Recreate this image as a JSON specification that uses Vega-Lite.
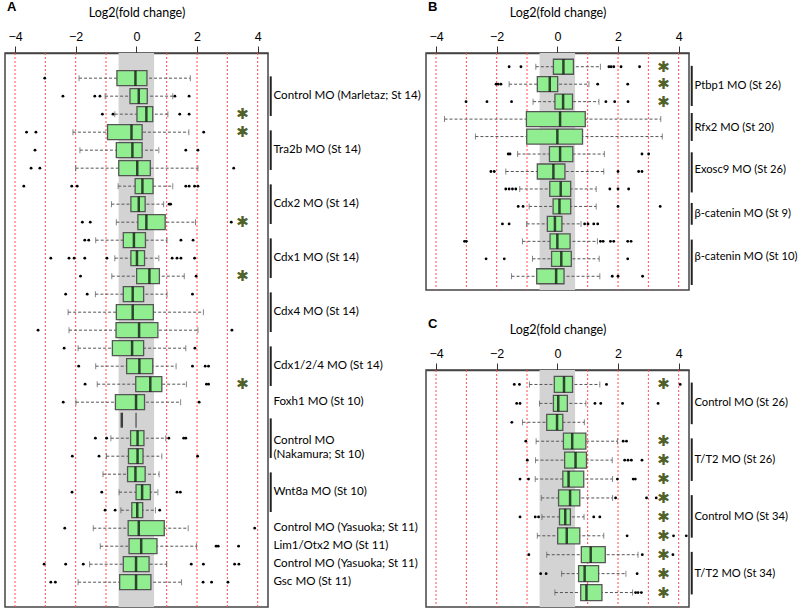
{
  "$schema": "https://vega.github.io/schema/vega-lite/v6.json",
  "padding": {"left": 4, "top": 0, "right": 0, "bottom": 0},
  "background": "white",
  "bounds": "flush",
  "spacing": 158,
  "config": {
    "view": {"stroke": "#444", "strokeWidth": 1.5},
    "title": {"font": "Liberation Sans", "fontSize": 13, "fontWeight": "bold", "color": "black", "anchor": "start", "frame": "group", "offset": -8, "dx": 2},
    "axis": {"labelFont": "Liberation Sans", "labelFontSize": 12.5, "labelColor": "black", "labelPadding": 3, "tickSize": 7, "tickColor": "#333", "domainColor": "#444", "domainWidth": 1.5, "titleFont": "Lato", "titleFontSize": 12.5, "titleFontWeight": "normal", "titleColor": "black", "titlePadding": 11, "grid": false, "labelFlush": false}
  },
  "datasets": {
    "band": [{"lo": -0.585, "hi": 0.585}],
    "grid": [{"v": -4}, {"v": -3}, {"v": -2}, {"v": -1}, {"v": 1}, {"v": 2}, {"v": 3}, {"v": 4}],
    "boxes": [
      {"p": "A", "r": 1, "lo": -1.89, "q1": -0.64, "med": -0.03, "q3": 0.35, "hi": 1.78},
      {"p": "A", "r": 2, "lo": -1.03, "q1": -0.21, "med": 0.08, "q3": 0.36, "hi": 1.2},
      {"p": "A", "r": 3, "lo": -0.71, "q1": 0.02, "med": 0.33, "q3": 0.54, "hi": 1.04},
      {"p": "A", "r": 4, "lo": -2.09, "q1": -0.95, "med": -0.16, "q3": 0.19, "hi": 1.73},
      {"p": "A", "r": 5, "lo": -1.86, "q1": -0.66, "med": -0.13, "q3": 0.19, "hi": 0.74},
      {"p": "A", "r": 6, "lo": -2.0, "q1": -0.58, "med": 0.03, "q3": 0.46, "hi": 2.03},
      {"p": "A", "r": 7, "lo": -0.6, "q1": -0.04, "med": 0.2, "q3": 0.55, "hi": 1.2},
      {"p": "A", "r": 8, "lo": -0.82, "q1": -0.18, "med": 0.08, "q3": 0.29, "hi": 0.9},
      {"p": "A", "r": 9, "lo": -0.66, "q1": 0.05, "med": 0.33, "q3": 0.95, "hi": 1.95},
      {"p": "A", "r": 10, "lo": -1.34, "q1": -0.43, "med": -0.08, "q3": 0.3, "hi": 1.01},
      {"p": "A", "r": 11, "lo": -0.71, "q1": -0.18, "med": 0.02, "q3": 0.27, "hi": 0.74},
      {"p": "A", "r": 12, "lo": -0.81, "q1": 0.01, "med": 0.43, "q3": 0.76, "hi": 1.58},
      {"p": "A", "r": 13, "lo": -1.35, "q1": -0.43, "med": -0.12, "q3": 0.24, "hi": 1.01},
      {"p": "A", "r": 14, "lo": -2.25, "q1": -0.66, "med": -0.12, "q3": 0.56, "hi": 2.21},
      {"p": "A", "r": 15, "lo": -2.22, "q1": -0.67, "med": 0.09, "q3": 0.71, "hi": 2.03},
      {"p": "A", "r": 16, "lo": -1.92, "q1": -0.79, "med": -0.14, "q3": 0.24, "hi": 1.63},
      {"p": "A", "r": 17, "lo": -1.34, "q1": -0.32, "med": 0.1, "q3": 0.54, "hi": 1.31},
      {"p": "A", "r": 18, "lo": -1.29, "q1": -0.02, "med": 0.46, "q3": 0.84, "hi": 1.65},
      {"p": "A", "r": 19, "lo": -1.99, "q1": -0.69, "med": -0.01, "q3": 0.27, "hi": 1.46},
      {"p": "A", "r": 20, "lo": null, "q1": -0.01, "med": -0.48, "q3": -0.01, "hi": null},
      {"p": "A", "r": 21, "lo": -0.84, "q1": -0.19, "med": 0.04, "q3": 0.25, "hi": 0.97},
      {"p": "A", "r": 22, "lo": -0.99, "q1": -0.26, "med": 0.04, "q3": 0.22, "hi": 0.84},
      {"p": "A", "r": 23, "lo": -1.1, "q1": -0.29, "med": -0.03, "q3": 0.29, "hi": 0.75},
      {"p": "A", "r": 24, "lo": -0.57, "q1": -0.01, "med": 0.19, "q3": 0.46, "hi": 0.71},
      {"p": "A", "r": 25, "lo": -0.51, "q1": -0.15, "med": 0.03, "q3": 0.21, "hi": 0.63},
      {"p": "A", "r": 26, "lo": -1.42, "q1": -0.27, "med": 0.08, "q3": 0.92, "hi": 1.71},
      {"p": "A", "r": 27, "lo": -1.19, "q1": -0.24, "med": 0.16, "q3": 0.68, "hi": 1.98},
      {"p": "A", "r": 28, "lo": -1.54, "q1": -0.43, "med": -0.01, "q3": 0.42, "hi": 1.0},
      {"p": "A", "r": 29, "lo": -1.92, "q1": -0.55, "med": -0.01, "q3": 0.48, "hi": 1.49},
      {"p": "B", "r": 1, "lo": -0.71, "q1": -0.13, "med": 0.2, "q3": 0.53, "hi": 1.42},
      {"p": "B", "r": 2, "lo": -1.59, "q1": -0.66, "med": -0.25, "q3": 0.01, "hi": 1.04},
      {"p": "B", "r": 3, "lo": -0.8, "q1": -0.08, "med": 0.19, "q3": 0.5, "hi": 1.37},
      {"p": "B", "r": 4, "lo": -3.72, "q1": -1.02, "med": 0.09, "q3": 0.92, "hi": 3.41},
      {"p": "B", "r": 5, "lo": -2.7, "q1": -1.01, "med": 0.0, "q3": 0.83, "hi": 3.46},
      {"p": "B", "r": 6, "lo": -1.31, "q1": -0.26, "med": 0.09, "q3": 0.51, "hi": 1.55},
      {"p": "B", "r": 7, "lo": -1.7, "q1": -0.66, "med": -0.13, "q3": 0.25, "hi": 1.53},
      {"p": "B", "r": 8, "lo": -1.24, "q1": -0.25, "med": 0.11, "q3": 0.44, "hi": 1.28},
      {"p": "B", "r": 9, "lo": -0.93, "q1": -0.14, "med": 0.07, "q3": 0.44, "hi": 1.28},
      {"p": "B", "r": 10, "lo": -1.01, "q1": -0.33, "med": -0.08, "q3": 0.15, "hi": 0.78},
      {"p": "B", "r": 11, "lo": -1.15, "q1": -0.24, "med": 0.0, "q3": 0.42, "hi": 1.32},
      {"p": "B", "r": 12, "lo": -0.82, "q1": -0.19, "med": 0.13, "q3": 0.46, "hi": 1.38},
      {"p": "B", "r": 13, "lo": -1.51, "q1": -0.68, "med": -0.04, "q3": 0.22, "hi": 1.4},
      {"p": "C", "r": 1, "lo": -0.92, "q1": -0.1, "med": 0.22, "q3": 0.5, "hi": 1.4},
      {"p": "C", "r": 2, "lo": -0.59, "q1": -0.13, "med": 0.03, "q3": 0.33, "hi": 0.94},
      {"p": "C", "r": 3, "lo": -1.15, "q1": -0.35, "med": -0.01, "q3": 0.18, "hi": 0.89},
      {"p": "C", "r": 4, "lo": -0.7, "q1": 0.2, "med": 0.49, "q3": 0.94, "hi": 1.98},
      {"p": "C", "r": 5, "lo": -0.72, "q1": 0.24, "med": 0.6, "q3": 0.96, "hi": 1.81},
      {"p": "C", "r": 6, "lo": -0.73, "q1": 0.18, "med": 0.37, "q3": 0.87, "hi": 1.82},
      {"p": "C", "r": 7, "lo": -0.53, "q1": 0.04, "med": 0.42, "q3": 0.74, "hi": 1.82},
      {"p": "C", "r": 8, "lo": -0.51, "q1": 0.07, "med": 0.26, "q3": 0.43, "hi": 0.88},
      {"p": "C", "r": 9, "lo": -0.66, "q1": 0.01, "med": 0.31, "q3": 0.74, "hi": 1.53},
      {"p": "C", "r": 10, "lo": -0.35, "q1": 0.79, "med": 1.1, "q3": 1.58, "hi": 2.66},
      {"p": "C", "r": 11, "lo": 0.14, "q1": 0.7, "med": 0.9, "q3": 1.36, "hi": 2.26},
      {"p": "C", "r": 12, "lo": -0.08, "q1": 0.77, "med": 0.96, "q3": 1.47, "hi": 2.48}
    ],
    "outs": [
      {"p": "A", "r": 1, "v": -3.02},
      {"p": "A", "r": 2, "v": -2.42}, {"p": "A", "r": 2, "v": -1.37}, {"p": "A", "r": 2, "v": -1.2}, {"p": "A", "r": 2, "v": 1.27}, {"p": "A", "r": 2, "v": 1.74},
      {"p": "A", "r": 3, "v": -1.12}, {"p": "A", "r": 3, "v": -0.77}, {"p": "A", "r": 3, "v": 1.43}, {"p": "A", "r": 3, "v": 1.74},
      {"p": "A", "r": 4, "v": -3.62}, {"p": "A", "r": 4, "v": -3.31}, {"p": "A", "r": 4, "v": 2.22},
      {"p": "A", "r": 5, "v": -3.34}, {"p": "A", "r": 5, "v": 1.63}, {"p": "A", "r": 5, "v": 2.03},
      {"p": "A", "r": 6, "v": -3.47}, {"p": "A", "r": 6, "v": -3.18}, {"p": "A", "r": 6, "v": 3.21},
      {"p": "A", "r": 7, "v": -3.71}, {"p": "A", "r": 7, "v": -2.13}, {"p": "A", "r": 7, "v": -1.95}, {"p": "A", "r": 7, "v": 1.63}, {"p": "A", "r": 7, "v": 1.74}, {"p": "A", "r": 7, "v": 1.92}, {"p": "A", "r": 7, "v": 2.03},
      {"p": "A", "r": 8, "v": 1.08}, {"p": "A", "r": 8, "v": 1.13},
      {"p": "A", "r": 9, "v": -1.78}, {"p": "A", "r": 9, "v": -1.52}, {"p": "A", "r": 9, "v": 3.13},
      {"p": "A", "r": 10, "v": -1.7}, {"p": "A", "r": 10, "v": -1.57}, {"p": "A", "r": 10, "v": 1.47}, {"p": "A", "r": 10, "v": 1.87},
      {"p": "A", "r": 11, "v": -2.82}, {"p": "A", "r": 11, "v": -2.22}, {"p": "A", "r": 11, "v": -2.05}, {"p": "A", "r": 11, "v": -1.7}, {"p": "A", "r": 11, "v": -0.97}, {"p": "A", "r": 11, "v": 1.18}, {"p": "A", "r": 11, "v": 1.34}, {"p": "A", "r": 11, "v": 1.47}, {"p": "A", "r": 11, "v": 1.92},
      {"p": "A", "r": 12, "v": -1.84}, {"p": "A", "r": 12, "v": 1.97},
      {"p": "A", "r": 13, "v": -2.33}, {"p": "A", "r": 13, "v": -1.62}, {"p": "A", "r": 13, "v": 1.85},
      {"p": "A", "r": 15, "v": -3.24}, {"p": "A", "r": 15, "v": 3.15},
      {"p": "A", "r": 16, "v": -2.38}, {"p": "A", "r": 16, "v": 1.93},
      {"p": "A", "r": 17, "v": -1.9}, {"p": "A", "r": 17, "v": 1.85}, {"p": "A", "r": 17, "v": 2.27}, {"p": "A", "r": 17, "v": 2.38},
      {"p": "A", "r": 18, "v": -1.69}, {"p": "A", "r": 18, "v": 2.31}, {"p": "A", "r": 18, "v": 2.38},
      {"p": "A", "r": 19, "v": -2.41}, {"p": "A", "r": 19, "v": 2.07},
      {"p": "A", "r": 21, "v": -1.35}, {"p": "A", "r": 21, "v": -0.98}, {"p": "A", "r": 21, "v": 1.07}, {"p": "A", "r": 21, "v": 1.56}, {"p": "A", "r": 21, "v": 1.63},
      {"p": "A", "r": 22, "v": -2.11}, {"p": "A", "r": 22, "v": -1.23}, {"p": "A", "r": 22, "v": 2.02},
      {"p": "A", "r": 24, "v": -2.12}, {"p": "A", "r": 24, "v": -1.14}, {"p": "A", "r": 24, "v": 1.34}, {"p": "A", "r": 24, "v": 1.45},
      {"p": "A", "r": 25, "v": -1.03}, {"p": "A", "r": 25, "v": -0.7}, {"p": "A", "r": 25, "v": 0.77},
      {"p": "A", "r": 26, "v": -2.36}, {"p": "A", "r": 26, "v": 3.9},
      {"p": "A", "r": 27, "v": 2.63}, {"p": "A", "r": 27, "v": 2.7}, {"p": "A", "r": 27, "v": 3.37},
      {"p": "A", "r": 28, "v": -3.04}, {"p": "A", "r": 28, "v": -2.33}, {"p": "A", "r": 28, "v": -1.75}, {"p": "A", "r": 28, "v": 1.81}, {"p": "A", "r": 28, "v": 2.21}, {"p": "A", "r": 28, "v": 3.24}, {"p": "A", "r": 28, "v": 3.38},
      {"p": "A", "r": 29, "v": -2.82}, {"p": "A", "r": 29, "v": -2.67}, {"p": "A", "r": 29, "v": 2.2}, {"p": "A", "r": 29, "v": 2.48}, {"p": "A", "r": 29, "v": 3.02},
      {"p": "B", "r": 1, "v": -1.59}, {"p": "B", "r": 1, "v": -1.2}, {"p": "B", "r": 1, "v": 1.7}, {"p": "B", "r": 1, "v": 1.77}, {"p": "B", "r": 1, "v": 1.86}, {"p": "B", "r": 1, "v": 2.1}, {"p": "B", "r": 1, "v": 2.71},
      {"p": "B", "r": 2, "v": -2.02}, {"p": "B", "r": 2, "v": -1.95}, {"p": "B", "r": 2, "v": -1.86}, {"p": "B", "r": 2, "v": 1.33}, {"p": "B", "r": 2, "v": 2.32},
      {"p": "B", "r": 3, "v": -3.01}, {"p": "B", "r": 3, "v": -2.32}, {"p": "B", "r": 3, "v": -1.51}, {"p": "B", "r": 3, "v": 1.6}, {"p": "B", "r": 3, "v": 1.89}, {"p": "B", "r": 3, "v": 2.33},
      {"p": "B", "r": 6, "v": -1.62}, {"p": "B", "r": 6, "v": -1.56}, {"p": "B", "r": 6, "v": 2.79}, {"p": "B", "r": 6, "v": 3.01},
      {"p": "B", "r": 7, "v": -2.19}, {"p": "B", "r": 7, "v": -2.08}, {"p": "B", "r": 7, "v": 2.0}, {"p": "B", "r": 7, "v": 2.68}, {"p": "B", "r": 7, "v": 2.79},
      {"p": "B", "r": 8, "v": -1.7}, {"p": "B", "r": 8, "v": -1.59}, {"p": "B", "r": 8, "v": -1.48}, {"p": "B", "r": 8, "v": -1.37}, {"p": "B", "r": 8, "v": 1.73}, {"p": "B", "r": 8, "v": 2.0}, {"p": "B", "r": 8, "v": 2.35},
      {"p": "B", "r": 9, "v": -1.29}, {"p": "B", "r": 9, "v": -1.13}, {"p": "B", "r": 9, "v": 2.0}, {"p": "B", "r": 9, "v": 3.39},
      {"p": "B", "r": 10, "v": -1.81}, {"p": "B", "r": 10, "v": -1.59}, {"p": "B", "r": 10, "v": 0.9}, {"p": "B", "r": 10, "v": 1.01}, {"p": "B", "r": 10, "v": 1.2}, {"p": "B", "r": 10, "v": 1.33},
      {"p": "B", "r": 11, "v": -3.06}, {"p": "B", "r": 11, "v": -3.0}, {"p": "B", "r": 11, "v": 1.42}, {"p": "B", "r": 11, "v": 1.51}, {"p": "B", "r": 11, "v": 1.75}, {"p": "B", "r": 11, "v": 1.86}, {"p": "B", "r": 11, "v": 2.32}, {"p": "B", "r": 11, "v": 2.43},
      {"p": "B", "r": 12, "v": -2.35}, {"p": "B", "r": 12, "v": -1.75}, {"p": "B", "r": 12, "v": 2.32},
      {"p": "B", "r": 13, "v": 1.81}, {"p": "B", "r": 13, "v": 2.0}, {"p": "B", "r": 13, "v": 2.81},
      {"p": "C", "r": 1, "v": -1.42}, {"p": "C", "r": 1, "v": -1.25}, {"p": "C", "r": 1, "v": 1.62}, {"p": "C", "r": 1, "v": 4.05},
      {"p": "C", "r": 2, "v": -1.34}, {"p": "C", "r": 2, "v": -1.23}, {"p": "C", "r": 2, "v": 1.24}, {"p": "C", "r": 2, "v": 1.43}, {"p": "C", "r": 2, "v": 2.15}, {"p": "C", "r": 2, "v": 3.32},
      {"p": "C", "r": 3, "v": -1.5},
      {"p": "C", "r": 4, "v": -1.04}, {"p": "C", "r": 4, "v": 2.17}, {"p": "C", "r": 4, "v": 2.28},
      {"p": "C", "r": 5, "v": -0.99}, {"p": "C", "r": 5, "v": 2.22}, {"p": "C", "r": 5, "v": 2.33}, {"p": "C", "r": 5, "v": 2.44}, {"p": "C", "r": 5, "v": 2.79},
      {"p": "C", "r": 6, "v": -1.23}, {"p": "C", "r": 6, "v": -0.95}, {"p": "C", "r": 6, "v": 1.98}, {"p": "C", "r": 6, "v": 2.5}, {"p": "C", "r": 6, "v": 2.57},
      {"p": "C", "r": 7, "v": 1.92}, {"p": "C", "r": 7, "v": 2.94}, {"p": "C", "r": 7, "v": 3.26},
      {"p": "C", "r": 8, "v": -1.23}, {"p": "C", "r": 8, "v": -0.73}, {"p": "C", "r": 8, "v": -0.62}, {"p": "C", "r": 8, "v": 1.2}, {"p": "C", "r": 8, "v": 1.4},
      {"p": "C", "r": 9, "v": 2.3}, {"p": "C", "r": 9, "v": 3.83}, {"p": "C", "r": 9, "v": 4.25},
      {"p": "C", "r": 10, "v": -0.94}, {"p": "C", "r": 10, "v": 2.8}, {"p": "C", "r": 10, "v": 3.81},
      {"p": "C", "r": 11, "v": -0.55}, {"p": "C", "r": 11, "v": -0.37}, {"p": "C", "r": 11, "v": 2.63},
      {"p": "C", "r": 12, "v": 2.58}, {"p": "C", "r": 12, "v": 2.66}, {"p": "C", "r": 12, "v": 2.77}
    ],
    "stars": [
      {"p": "A", "r": 3}, {"p": "A", "r": 4}, {"p": "A", "r": 9}, {"p": "A", "r": 12}, {"p": "A", "r": 18},
      {"p": "B", "r": 1}, {"p": "B", "r": 2}, {"p": "B", "r": 3},
      {"p": "C", "r": 1}, {"p": "C", "r": 4}, {"p": "C", "r": 5}, {"p": "C", "r": 6}, {"p": "C", "r": 7}, {"p": "C", "r": 8}, {"p": "C", "r": 9}, {"p": "C", "r": 10}, {"p": "C", "r": 11}, {"p": "C", "r": 12}
    ],
    "groups": [
      {"p": "A", "label": "Control MO (Marletaz; St 14)", "mid": 2, "y0": 0.9, "y1": 3.1},
      {"p": "A", "label": "Tra2b MO (St 14)", "mid": 5, "y0": 3.9, "y1": 6.1},
      {"p": "A", "label": "Cdx2 MO (St 14)", "mid": 8, "y0": 6.9, "y1": 9.1},
      {"p": "A", "label": "Cdx1 MO (St 14)", "mid": 11, "y0": 9.9, "y1": 12.1},
      {"p": "A", "label": "Cdx4 MO (St 14)", "mid": 14, "y0": 12.9, "y1": 15.1},
      {"p": "A", "label": "Cdx1/2/4 MO (St 14)", "mid": 17, "y0": 15.9, "y1": 18.1},
      {"p": "A", "label": "Foxh1 MO (St 10)", "mid": 19, "y0": null, "y1": null},
      {"p": "A", "label": "Control MO\n(Nakamura; St 10)", "mid": 21.15, "y0": 19.9, "y1": 22.1},
      {"p": "A", "label": "Wnt8a MO (St 10)", "mid": 24, "y0": 22.9, "y1": 25.1},
      {"p": "A", "label": "Control MO (Yasuoka; St 11)", "mid": 26, "y0": null, "y1": null},
      {"p": "A", "label": "Lim1/Otx2 MO (St 11)", "mid": 27, "y0": null, "y1": null},
      {"p": "A", "label": "Control MO (Yasuoka; St 11)", "mid": 28, "y0": null, "y1": null},
      {"p": "A", "label": "Gsc MO (St 11)", "mid": 29, "y0": null, "y1": null},
      {"p": "B", "label": "Ptbp1 MO (St 26)", "mid": 2.1, "y0": 0.95, "y1": 3.25},
      {"p": "B", "label": "Rfx2 MO (St 20)", "mid": 4.5, "y0": 3.65, "y1": 5.25},
      {"p": "B", "label": "Exosc9 MO (St 26)", "mid": 6.9, "y0": 5.9, "y1": 8.2},
      {"p": "B", "label": "β-catenin MO (St 9)", "mid": 9.45, "y0": 8.8, "y1": 10.05},
      {"p": "B", "label": "β-catenin MO (St 10)", "mid": 11.9, "y0": 10.9, "y1": 13.5},
      {"p": "C", "label": "Control MO (St 26)", "mid": 2, "y0": 0.9, "y1": 3.1},
      {"p": "C", "label": "T/T2 MO (St 26)", "mid": 5, "y0": 3.85, "y1": 6.1},
      {"p": "C", "label": "Control MO (St 34)", "mid": 8, "y0": 6.85, "y1": 9.1},
      {"p": "C", "label": "T/T2 MO (St 34)", "mid": 11, "y0": 9.85, "y1": 12.1}
    ]
  },
  "hconcat": [
    {
      "width": 263, "height": 554,
      "title": {"text": "A"},
      "layer": [
        {"data": {"name": "band"}, "mark": {"type": "rect", "color": "#d3d3d3"},
         "encoding": {"x": {"field": "lo", "type": "quantitative", "scale": {"domain": [-4.33, 4.34], "nice": false, "zero": false}, "axis": {"orient": "top", "values": [-4, -2, 0, 2, 4], "title": "Log2(fold change)"}}, "x2": {"field": "hi"}}},
        {"data": {"name": "grid"}, "mark": {"type": "rule", "color": "#ff4d4d", "strokeDash": [2, 2], "strokeWidth": 1},
         "encoding": {"x": {"field": "v", "type": "quantitative", "axis": {"orient": "top", "values": [-4, -2, 0, 2, 4], "title": "Log2(fold change)"}}}},
        {"data": {"name": "boxes"}, "transform": [{"filter": "datum.p == 'A'"}],
         "layer": [
           {"mark": {"type": "rule", "color": "#555", "strokeDash": [3, 2], "strokeWidth": 1},
            "encoding": {"x": {"field": "lo", "type": "quantitative", "axis": {"orient": "top", "values": [-4, -2, 0, 2, 4], "title": "Log2(fold change)"}}, "x2": {"field": "hi"}, "y": {"field": "r", "type": "quantitative", "scale": {"domain": [-0.12, 30.1], "reverse": true, "nice": false, "zero": false}, "axis": null}}},
           {"mark": {"type": "tick", "orient": "vertical", "size": 6, "thickness": 1, "color": "#555"},
            "encoding": {"x": {"field": "lo", "type": "quantitative", "axis": {"orient": "top", "values": [-4, -2, 0, 2, 4], "title": "Log2(fold change)"}}, "y": {"field": "r", "type": "quantitative", "axis": null}}},
           {"mark": {"type": "tick", "orient": "vertical", "size": 6, "thickness": 1, "color": "#555"},
            "encoding": {"x": {"field": "hi", "type": "quantitative", "axis": {"orient": "top", "values": [-4, -2, 0, 2, 4], "title": "Log2(fold change)"}}, "y": {"field": "r", "type": "quantitative", "axis": null}}},
           {"mark": {"type": "bar", "orient": "horizontal", "size": 15, "fill": "#90ee90", "stroke": "#555", "strokeWidth": 1.3},
            "encoding": {"x": {"field": "q1", "type": "quantitative", "axis": {"orient": "top", "values": [-4, -2, 0, 2, 4], "title": "Log2(fold change)"}}, "x2": {"field": "q3"}, "y": {"field": "r", "type": "quantitative", "axis": null}}},
           {"mark": {"type": "tick", "orient": "vertical", "size": 15, "thickness": 2.5, "color": "black"},
            "encoding": {"x": {"field": "med", "type": "quantitative", "axis": {"orient": "top", "values": [-4, -2, 0, 2, 4], "title": "Log2(fold change)"}}, "y": {"field": "r", "type": "quantitative", "axis": null}}}
         ]},
        {"data": {"name": "outs"}, "transform": [{"filter": "datum.p == 'A'"}], "mark": {"type": "circle", "size": 8, "color": "black", "opacity": 1},
         "encoding": {"x": {"field": "v", "type": "quantitative", "axis": {"orient": "top", "values": [-4, -2, 0, 2, 4], "title": "Log2(fold change)"}}, "y": {"field": "r", "type": "quantitative", "axis": null}}},
        {"data": {"name": "stars"}, "transform": [{"filter": "datum.p == 'A'"}], "mark": {"type": "text", "text": "✱", "font": "DejaVu Sans", "fontWeight": "bold", "fontSize": 15, "color": "#4f6228", "baseline": "middle"},
         "encoding": {"x": {"datum": 3.5, "type": "quantitative", "axis": {"orient": "top", "values": [-4, -2, 0, 2, 4], "title": "Log2(fold change)"}}, "y": {"field": "r", "type": "quantitative", "axis": null}}},
        {"data": {"name": "groups"}, "transform": [{"filter": "datum.p == 'A' && datum.y0 != null"}], "mark": {"type": "rule", "color": "#222", "strokeWidth": 2},
         "encoding": {"x": {"datum": 4.43, "type": "quantitative", "axis": {"orient": "top", "values": [-4, -2, 0, 2, 4], "title": "Log2(fold change)"}}, "y": {"field": "y0", "type": "quantitative", "axis": null}, "y2": {"field": "y1"}}},
        {"data": {"name": "groups"}, "transform": [{"filter": "datum.p == 'A'"}], "mark": {"type": "text", "align": "left", "baseline": "middle", "font": "Lato", "fontSize": 11.6, "color": "black", "lineBreak": "\n", "lineHeight": 14},
         "encoding": {"x": {"datum": 4.52, "type": "quantitative", "axis": {"orient": "top", "values": [-4, -2, 0, 2, 4], "title": "Log2(fold change)"}}, "y": {"field": "mid", "type": "quantitative", "axis": null}, "text": {"field": "label"}}}
      ]
    },
    {
      "bounds": "flush",
      "spacing": 80,
      "vconcat": [
        {
          "width": 263, "height": 237,
          "title": {"text": "B"},
          "layer": [
            {"data": {"name": "band"}, "mark": {"type": "rect", "color": "#d3d3d3"},
             "encoding": {"x": {"field": "lo", "type": "quantitative", "scale": {"domain": [-4.33, 4.34], "nice": false, "zero": false}, "axis": {"orient": "top", "values": [-4, -2, 0, 2, 4], "title": "Log2(fold change)"}}, "x2": {"field": "hi"}}},
            {"data": {"name": "grid"}, "mark": {"type": "rule", "color": "#ff4d4d", "strokeDash": [2, 2], "strokeWidth": 1},
             "encoding": {"x": {"field": "v", "type": "quantitative", "axis": {"orient": "top", "values": [-4, -2, 0, 2, 4], "title": "Log2(fold change)"}}}},
            {"data": {"name": "boxes"}, "transform": [{"filter": "datum.p == 'B'"}],
             "layer": [
               {"mark": {"type": "rule", "color": "#555", "strokeDash": [3, 2], "strokeWidth": 1},
                "encoding": {"x": {"field": "lo", "type": "quantitative", "axis": {"orient": "top", "values": [-4, -2, 0, 2, 4], "title": "Log2(fold change)"}}, "x2": {"field": "hi"}, "y": {"field": "r", "type": "quantitative", "scale": {"domain": [0.5, 13.5], "reverse": true, "nice": false, "zero": false}, "axis": null}}},
               {"mark": {"type": "tick", "orient": "vertical", "size": 6, "thickness": 1, "color": "#555"},
                "encoding": {"x": {"field": "lo", "type": "quantitative", "axis": {"orient": "top", "values": [-4, -2, 0, 2, 4], "title": "Log2(fold change)"}}, "y": {"field": "r", "type": "quantitative", "axis": null}}},
               {"mark": {"type": "tick", "orient": "vertical", "size": 6, "thickness": 1, "color": "#555"},
                "encoding": {"x": {"field": "hi", "type": "quantitative", "axis": {"orient": "top", "values": [-4, -2, 0, 2, 4], "title": "Log2(fold change)"}}, "y": {"field": "r", "type": "quantitative", "axis": null}}},
               {"mark": {"type": "bar", "orient": "horizontal", "size": 15, "fill": "#90ee90", "stroke": "#555", "strokeWidth": 1.3},
                "encoding": {"x": {"field": "q1", "type": "quantitative", "axis": {"orient": "top", "values": [-4, -2, 0, 2, 4], "title": "Log2(fold change)"}}, "x2": {"field": "q3"}, "y": {"field": "r", "type": "quantitative", "axis": null}}},
               {"mark": {"type": "tick", "orient": "vertical", "size": 15, "thickness": 2.5, "color": "black"},
                "encoding": {"x": {"field": "med", "type": "quantitative", "axis": {"orient": "top", "values": [-4, -2, 0, 2, 4], "title": "Log2(fold change)"}}, "y": {"field": "r", "type": "quantitative", "axis": null}}}
             ]},
            {"data": {"name": "outs"}, "transform": [{"filter": "datum.p == 'B'"}], "mark": {"type": "circle", "size": 8, "color": "black", "opacity": 1},
             "encoding": {"x": {"field": "v", "type": "quantitative", "axis": {"orient": "top", "values": [-4, -2, 0, 2, 4], "title": "Log2(fold change)"}}, "y": {"field": "r", "type": "quantitative", "axis": null}}},
            {"data": {"name": "stars"}, "transform": [{"filter": "datum.p == 'B'"}], "mark": {"type": "text", "text": "✱", "font": "DejaVu Sans", "fontWeight": "bold", "fontSize": 15, "color": "#4f6228", "baseline": "middle"},
             "encoding": {"x": {"datum": 3.5, "type": "quantitative", "axis": {"orient": "top", "values": [-4, -2, 0, 2, 4], "title": "Log2(fold change)"}}, "y": {"field": "r", "type": "quantitative", "axis": null}}},
            {"data": {"name": "groups"}, "transform": [{"filter": "datum.p == 'B' && datum.y0 != null"}], "mark": {"type": "rule", "color": "#222", "strokeWidth": 2},
             "encoding": {"x": {"datum": 4.43, "type": "quantitative", "axis": {"orient": "top", "values": [-4, -2, 0, 2, 4], "title": "Log2(fold change)"}}, "y": {"field": "y0", "type": "quantitative", "axis": null}, "y2": {"field": "y1"}}},
            {"data": {"name": "groups"}, "transform": [{"filter": "datum.p == 'B'"}], "mark": {"type": "text", "align": "left", "baseline": "middle", "font": "Lato", "fontSize": 11.2, "color": "black", "lineBreak": "\n", "lineHeight": 14},
             "encoding": {"x": {"datum": 4.52, "type": "quantitative", "axis": {"orient": "top", "values": [-4, -2, 0, 2, 4], "title": "Log2(fold change)"}}, "y": {"field": "mid", "type": "quantitative", "axis": null}, "text": {"field": "label"}}}
          ]
        },
        {
          "width": 263, "height": 237,
          "title": {"text": "C"},
          "layer": [
            {"data": {"name": "band"}, "mark": {"type": "rect", "color": "#d3d3d3"},
             "encoding": {"x": {"field": "lo", "type": "quantitative", "scale": {"domain": [-4.33, 4.34], "nice": false, "zero": false}, "axis": {"orient": "top", "values": [-4, -2, 0, 2, 4], "title": "Log2(fold change)"}}, "x2": {"field": "hi"}}},
            {"data": {"name": "grid"}, "mark": {"type": "rule", "color": "#ff4d4d", "strokeDash": [2, 2], "strokeWidth": 1},
             "encoding": {"x": {"field": "v", "type": "quantitative", "axis": {"orient": "top", "values": [-4, -2, 0, 2, 4], "title": "Log2(fold change)"}}}},
            {"data": {"name": "boxes"}, "transform": [{"filter": "datum.p == 'C'"}],
             "layer": [
               {"mark": {"type": "rule", "color": "#555", "strokeDash": [3, 2], "strokeWidth": 1},
                "encoding": {"x": {"field": "lo", "type": "quantitative", "axis": {"orient": "top", "values": [-4, -2, 0, 2, 4], "title": "Log2(fold change)"}}, "x2": {"field": "hi"}, "y": {"field": "r", "type": "quantitative", "scale": {"domain": [0.5, 12.5], "reverse": true, "nice": false, "zero": false}, "axis": null}}},
               {"mark": {"type": "tick", "orient": "vertical", "size": 6, "thickness": 1, "color": "#555"},
                "encoding": {"x": {"field": "lo", "type": "quantitative", "axis": {"orient": "top", "values": [-4, -2, 0, 2, 4], "title": "Log2(fold change)"}}, "y": {"field": "r", "type": "quantitative", "axis": null}}},
               {"mark": {"type": "tick", "orient": "vertical", "size": 6, "thickness": 1, "color": "#555"},
                "encoding": {"x": {"field": "hi", "type": "quantitative", "axis": {"orient": "top", "values": [-4, -2, 0, 2, 4], "title": "Log2(fold change)"}}, "y": {"field": "r", "type": "quantitative", "axis": null}}},
               {"mark": {"type": "bar", "orient": "horizontal", "size": 16, "fill": "#90ee90", "stroke": "#555", "strokeWidth": 1.3},
                "encoding": {"x": {"field": "q1", "type": "quantitative", "axis": {"orient": "top", "values": [-4, -2, 0, 2, 4], "title": "Log2(fold change)"}}, "x2": {"field": "q3"}, "y": {"field": "r", "type": "quantitative", "axis": null}}},
               {"mark": {"type": "tick", "orient": "vertical", "size": 16, "thickness": 2.5, "color": "black"},
                "encoding": {"x": {"field": "med", "type": "quantitative", "axis": {"orient": "top", "values": [-4, -2, 0, 2, 4], "title": "Log2(fold change)"}}, "y": {"field": "r", "type": "quantitative", "axis": null}}}
             ]},
            {"data": {"name": "outs"}, "transform": [{"filter": "datum.p == 'C'"}], "mark": {"type": "circle", "size": 8, "color": "black", "opacity": 1},
             "encoding": {"x": {"field": "v", "type": "quantitative", "axis": {"orient": "top", "values": [-4, -2, 0, 2, 4], "title": "Log2(fold change)"}}, "y": {"field": "r", "type": "quantitative", "axis": null}}},
            {"data": {"name": "stars"}, "transform": [{"filter": "datum.p == 'C'"}], "mark": {"type": "text", "text": "✱", "font": "DejaVu Sans", "fontWeight": "bold", "fontSize": 15, "color": "#4f6228", "baseline": "middle"},
             "encoding": {"x": {"datum": 3.5, "type": "quantitative", "axis": {"orient": "top", "values": [-4, -2, 0, 2, 4], "title": "Log2(fold change)"}}, "y": {"field": "r", "type": "quantitative", "axis": null}}},
            {"data": {"name": "groups"}, "transform": [{"filter": "datum.p == 'C' && datum.y0 != null"}], "mark": {"type": "rule", "color": "#222", "strokeWidth": 2},
             "encoding": {"x": {"datum": 4.43, "type": "quantitative", "axis": {"orient": "top", "values": [-4, -2, 0, 2, 4], "title": "Log2(fold change)"}}, "y": {"field": "y0", "type": "quantitative", "axis": null}, "y2": {"field": "y1"}}},
            {"data": {"name": "groups"}, "transform": [{"filter": "datum.p == 'C'"}], "mark": {"type": "text", "align": "left", "baseline": "middle", "font": "Lato", "fontSize": 11.2, "color": "black", "lineBreak": "\n", "lineHeight": 14},
             "encoding": {"x": {"datum": 4.52, "type": "quantitative", "axis": {"orient": "top", "values": [-4, -2, 0, 2, 4], "title": "Log2(fold change)"}}, "y": {"field": "mid", "type": "quantitative", "axis": null}, "text": {"field": "label"}}}
          ]
        }
      ]
    }
  ]
}
